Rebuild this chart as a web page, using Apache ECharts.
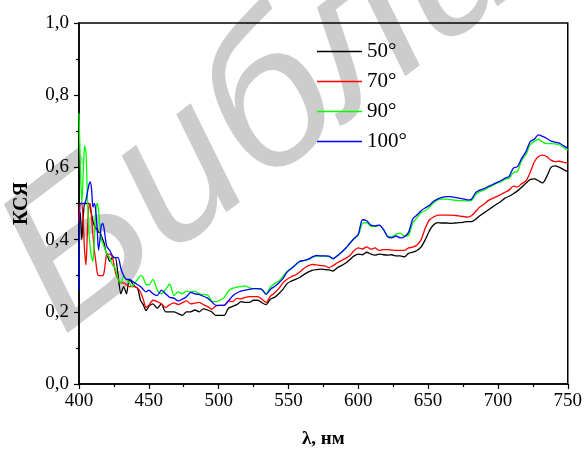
<!DOCTYPE html>
<html>
<head>
<meta charset="utf-8">
<script src="https://cdn.jsdelivr.net/npm/echarts@6/dist/echarts.min.js"></script>
<style>
html,body{margin:0;padding:0;background:#fff;}
#chart{width:585px;height:454px;}
</style>
</head>
<body>
<div id="chart"></div>
<script>
// wavelengths (nm)
const wavelengths = [
  400,401,402,403,404,405,406,407,408,409,410,411,412,413,414,415,416,417,418,419,420,
  422,424,426,428,430,432,434,436,438,440,442,444,446,448,450,
  453,456,459,462,465,468,471,474,477,480,
  483,486,489,492,495,498,501,504,507,510,
  513,516,519,522,525,528,531,534,537,540,
  543,546,549,552,555,558,561,564,567,570,
  573,576,579,582,585,588,591,594,597,600,
  603,606,609,612,615,618,621,624,627,630,
  633,636,639,642,645,648,651,654,657,660,
  663,666,669,672,675,678,681,684,687,690,
  693,696,699,702,705,708,711,714,717,720,
  723,726,729,732,735,738,741,744,747,750
];
const seriesNames = ['50°','70°','90°','100°'];
const values50 = [
  0.48,0.47,0.40,0.46,0.50,0.50,0.50,0.50,0.49,0.47,0.45,0.44,0.43,0.43,0.42,0.42,0.41,0.40,0.39,0.37,0.36,
  0.34,0.35,0.35,0.30,0.25,0.27,0.25,0.29,0.28,0.27,0.265,0.232,0.22,0.203,0.215,
  0.222,0.21,0.222,0.20,0.20,0.20,0.195,0.19,0.20,0.20,
  0.205,0.20,0.208,0.205,0.20,0.19,0.19,0.19,0.21,0.215,
  0.22,0.228,0.226,0.226,0.232,0.232,0.225,0.22,0.235,0.24,
  0.25,0.262,0.278,0.285,0.29,0.295,0.303,0.31,0.315,0.317,
  0.318,0.317,0.316,0.313,0.322,0.328,0.335,0.345,0.355,0.36,
  0.358,0.365,0.36,0.357,0.36,0.358,0.357,0.358,0.355,0.355,
  0.352,0.362,0.365,0.37,0.38,0.40,0.425,0.441,0.447,0.446,
  0.446,0.445,0.446,0.447,0.448,0.45,0.45,0.456,0.466,0.474,
  0.482,0.49,0.498,0.505,0.515,0.52,0.527,0.535,0.545,0.556,
  0.566,0.568,0.563,0.557,0.575,0.60,0.604,0.60,0.594,0.588
];
const values70 = [
  0.45,0.50,0.50,0.45,0.37,0.33,0.42,0.49,0.50,0.46,0.41,0.37,0.34,0.31,0.30,0.30,0.30,0.30,0.31,0.34,0.36,
  0.36,0.35,0.31,0.29,0.28,0.28,0.275,0.27,0.27,0.27,0.265,0.255,0.235,0.212,0.218,
  0.232,0.228,0.222,0.212,0.22,0.225,0.22,0.225,0.23,0.222,
  0.224,0.226,0.22,0.215,0.207,0.216,0.218,0.218,0.23,0.228,
  0.237,0.236,0.24,0.242,0.242,0.242,0.235,0.226,0.243,0.252,
  0.264,0.28,0.29,0.297,0.302,0.31,0.32,0.327,0.331,0.33,
  0.328,0.327,0.322,0.328,0.336,0.342,0.348,0.356,0.37,0.377,
  0.374,0.38,0.373,0.377,0.37,0.372,0.372,0.371,0.37,0.37,
  0.37,0.377,0.379,0.385,0.40,0.432,0.455,0.463,0.468,0.468,
  0.468,0.468,0.467,0.466,0.464,0.462,0.466,0.478,0.49,0.498,
  0.508,0.514,0.519,0.525,0.531,0.537,0.548,0.546,0.555,0.562,
  0.585,0.615,0.63,0.634,0.63,0.62,0.616,0.617,0.614,0.612
];
const values90 = [
  0.75,0.60,0.50,0.58,0.66,0.64,0.52,0.43,0.38,0.35,0.34,0.40,0.48,0.50,0.48,0.43,0.40,0.39,0.38,0.37,0.36,
  0.35,0.33,0.32,0.29,0.28,0.30,0.29,0.28,0.27,0.28,0.29,0.30,0.295,0.275,0.275,
  0.29,0.26,0.25,0.262,0.277,0.245,0.255,0.25,0.257,0.255,
  0.257,0.25,0.248,0.247,0.23,0.228,0.232,0.24,0.258,0.265,
  0.268,0.27,0.272,0.266,0.264,0.264,0.262,0.25,0.268,0.278,
  0.285,0.298,0.312,0.32,0.33,0.338,0.342,0.345,0.35,0.354,
  0.354,0.354,0.353,0.347,0.355,0.365,0.376,0.39,0.403,0.412,
  0.445,0.447,0.437,0.436,0.44,0.428,0.41,0.408,0.415,0.418,
  0.41,0.412,0.446,0.46,0.475,0.48,0.49,0.502,0.51,0.512,
  0.512,0.511,0.509,0.508,0.508,0.507,0.508,0.525,0.533,0.537,
  0.544,0.55,0.556,0.56,0.567,0.57,0.585,0.589,0.62,0.635,
  0.662,0.672,0.678,0.67,0.666,0.666,0.665,0.662,0.655,0.648
];
const values100 = [
  0.26,0.50,0.50,0.50,0.50,0.51,0.53,0.55,0.56,0.54,0.49,0.50,0.48,0.43,0.37,0.40,0.44,0.445,0.43,0.40,0.38,
  0.37,0.355,0.35,0.35,0.32,0.30,0.29,0.29,0.285,0.28,0.275,0.27,0.262,0.255,0.26,
  0.25,0.245,0.26,0.25,0.24,0.238,0.23,0.235,0.242,0.254,
  0.25,0.248,0.243,0.238,0.228,0.218,0.218,0.218,0.23,0.244,
  0.252,0.257,0.26,0.262,0.264,0.264,0.262,0.248,0.262,0.27,
  0.28,0.292,0.31,0.32,0.33,0.34,0.342,0.345,0.352,0.356,
  0.355,0.355,0.354,0.347,0.355,0.365,0.376,0.39,0.403,0.415,
  0.455,0.452,0.44,0.438,0.44,0.428,0.408,0.405,0.41,0.405,
  0.408,0.42,0.457,0.468,0.48,0.488,0.495,0.506,0.513,0.517,
  0.519,0.519,0.517,0.515,0.513,0.51,0.512,0.53,0.537,0.541,
  0.547,0.552,0.558,0.563,0.57,0.575,0.598,0.602,0.625,0.643,
  0.671,0.678,0.69,0.686,0.68,0.673,0.67,0.667,0.66,0.653
];
const seriesValues = [values50, values70, values90, values100];
const seriesColors = ['#000000','#ff0000','#00ff00','#0000ff'];
const xTicks = {min:400, max:750, interval:50};
const yTicks = {min:0, max:1, interval:0.2};

const serif = "'Liberation Serif','Times New Roman',serif";
const chart = echarts.init(document.getElementById('chart'), null, {renderer:'canvas'});

const series = seriesNames.map((name, i) => ({
  name: name,
  type: 'line',
  symbol: 'none',
  showSymbol: false,
  smooth: 0.25,
  z: 3 + i,
  color: seriesColors[i],
  lineStyle: {color: seriesColors[i], width: 1.3},
  itemStyle: {color: seriesColors[i]},
  data: wavelengths.map((w, k) => [w, seriesValues[i][k]])
}));

chart.setOption({
  animation: false,
  backgroundColor: '#ffffff',
  color: seriesColors,
  graphic: [{
    type: 'text',
    z: -10,
    silent: true,
    x: 90,
    y: 373,
    rotation: 0.65,
    style: {
      text: 'Библиотека',
      fontSize: 205,
      fontStyle: 'italic',
      fontFamily: "'Liberation Sans', Arial, sans-serif",
      fill: '#cccccc',
      textAlign: 'left',
      textVerticalAlign: 'bottom'
    }
  }],
  grid: {left: 79, right: 17, top: 23, bottom: 69, show: true, borderColor: '#000', borderWidth: 1.5, backgroundColor: 'transparent'},
  legend: {
    orient: 'vertical',
    left: 312,
    top: 36,
    itemWidth: 45,
    itemHeight: 1.5,
    itemGap: 9,
    icon: 'rect',
    data: seriesNames.map((n, i) => ({name: n, itemStyle: {color: seriesColors[i]}})),
    textStyle: {fontFamily: serif, fontSize: 21, color: '#000', lineHeight: 20}
  },
  xAxis: {
    type: 'value',
    min: xTicks.min, max: xTicks.max, interval: xTicks.interval,
    name: 'λ, нм',
    nameLocation: 'middle',
    nameGap: 46,
    nameTextStyle: {fontFamily: serif, fontSize: 19, fontWeight: 'bold', color: '#000'},
    axisLine: {show: true, lineStyle: {color: '#000', width: 1.5}},
    axisTick: {show: true, inside: false, length: 5, lineStyle: {color: '#000', width: 1.2}},
    minorTick: {show: true, splitNumber: 2, length: 3, lineStyle: {color: '#000', width: 1.2}},
    splitLine: {show: false},
    axisLabel: {fontFamily: serif, fontSize: 19, color: '#000', margin: 8}
  },
  yAxis: {
    type: 'value',
    min: yTicks.min, max: yTicks.max, interval: yTicks.interval,
    name: 'КСЯ',
    nameLocation: 'middle',
    nameGap: 47,
    nameTextStyle: {fontFamily: serif, fontSize: 20, fontWeight: 'bold', color: '#000'},
    axisLine: {show: true, lineStyle: {color: '#000', width: 1.5}},
    axisTick: {show: true, inside: false, length: 5, lineStyle: {color: '#000', width: 1.2}},
    minorTick: {show: true, splitNumber: 2, length: 3, lineStyle: {color: '#000', width: 1.2}},
    splitLine: {show: false},
    axisLabel: {fontFamily: serif, fontSize: 19, color: '#000', margin: 10,
      formatter: v => v.toFixed(1).replace('.', ',')}
  },
  series: series
});
</script>
</body>
</html>
